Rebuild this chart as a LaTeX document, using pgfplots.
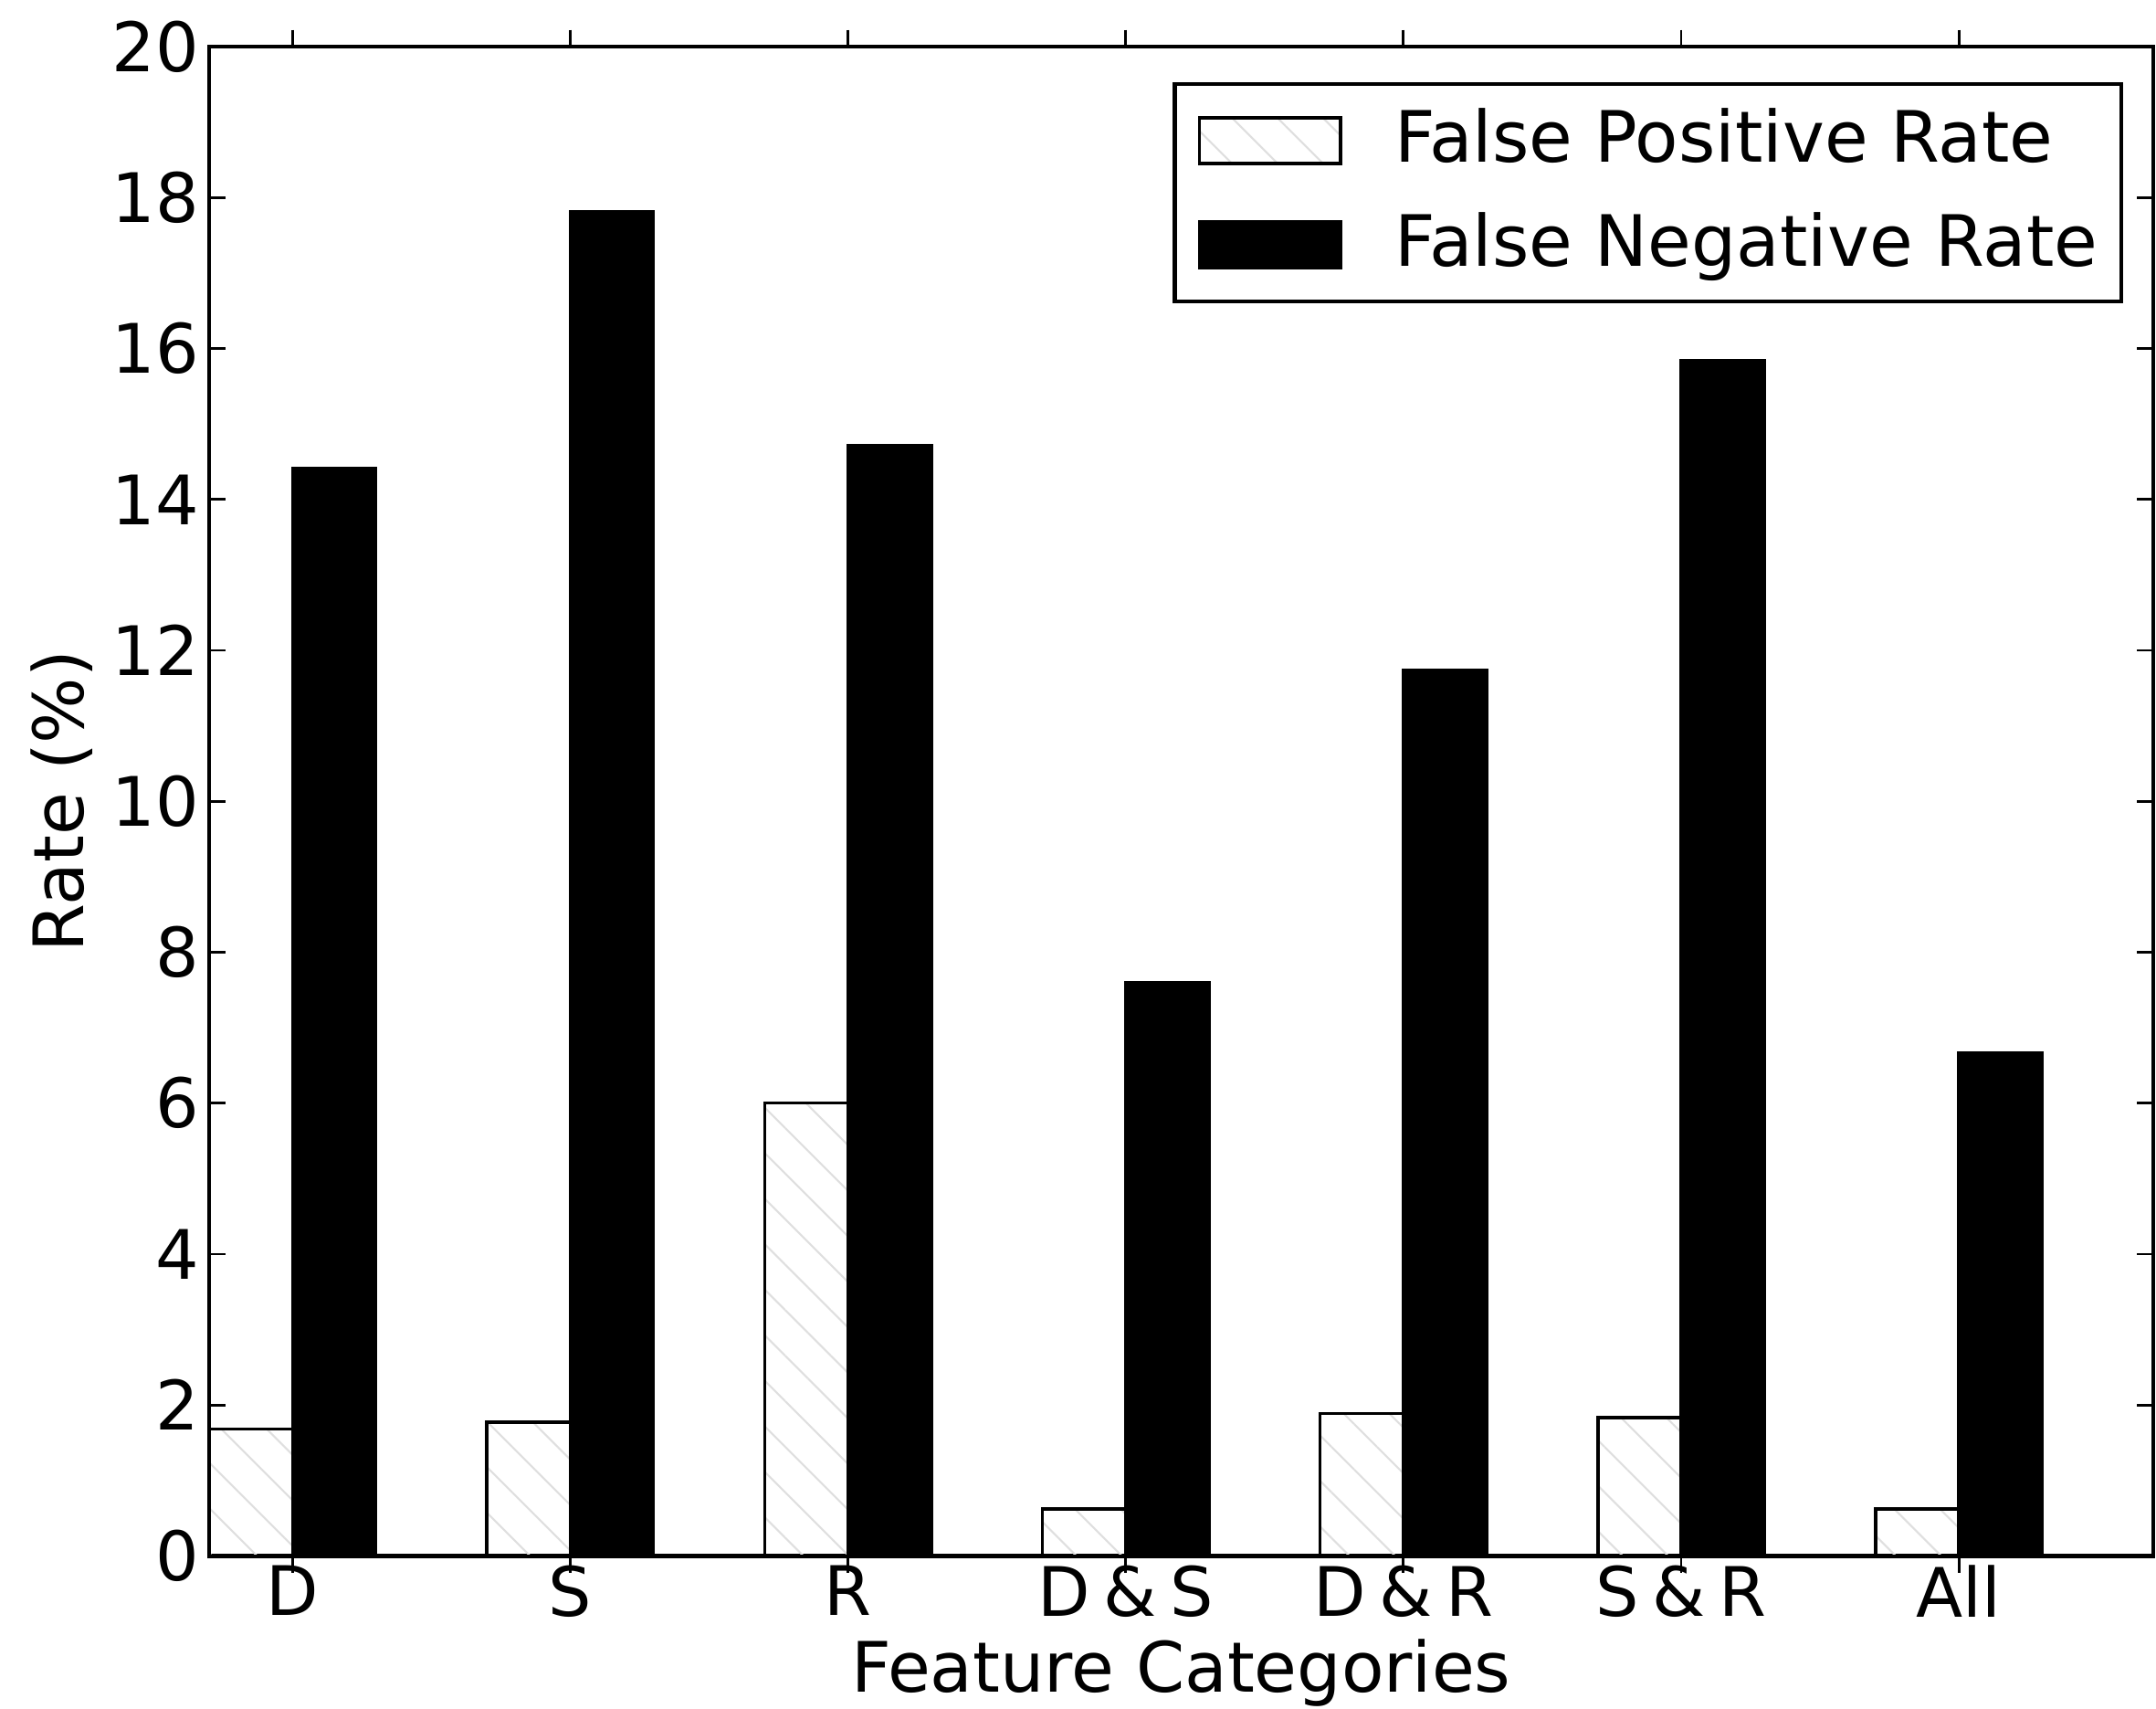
\documentclass[border=0pt]{standalone}
\usepackage{pgfplots}
\pgfplotsset{compat=1.18}
\usepackage{fontspec}
\setmainfont{DejaVu Sans}
\usetikzlibrary{patterns.meta}
\pgfplotstableread{
x fp
0.15 1.68
1.15 1.77
2.15 6.00
3.15 0.62
4.15 1.89
5.15 1.83
6.15 0.62
}\fptable
\pgfplotstableread{
x fn
0.45 14.41
1.45 17.81
2.45 14.71
3.45 7.60
4.45 11.74
5.45 15.84
6.45 6.66
}\fntable
\pgfplotsset{
  mylegend/.style={legend image code/.code={\draw[##1, line width=0.5pt] (0pt,-3.55pt) rectangle (21.9pt,3.55pt);}},
}
\newcommand{\amp}{\hspace{0.2em}\&\hspace{0.2em}}
\begin{document}
\fontsize{10.8pt}{13pt}\selectfont
\begin{tikzpicture}
\begin{axis}[
  name=a,
  scale only axis,
  width=302pt, height=234.4pt,
  xmin=0, xmax=7, ymin=0, ymax=20,
  ytick={0,2,...,20},
  xtick={0.3,1.3,2.3,3.3,4.3,5.3,6.3},
  xticklabels={D,S,R,D\amp S,D\amp R,S\amp R,All},
  /pgf/number format/assume math mode=true,
  tick align=inside,
  major tick length=2.6pt,
  minor tick num=0,
  axis line style={line width=0.6pt},
  tick style={line width=0.4pt, black},
  every tick label/.append style={font=\fontsize{10.6pt}{13pt}\selectfont},
  yticklabel style={inner sep=0pt, xshift=-1.4pt},
  xticklabel style={inner sep=0pt, yshift=1.3pt},
  xlabel={Feature Categories},
  ylabel={Rate (\%)},
  xlabel style={at={(axis description cs:0.5,0)}, anchor=base, yshift=-21.1pt, inner sep=0pt},
  ylabel style={at={(axis description cs:-0.0756,0.5)}, anchor=center, inner sep=0pt},
  legend style={at={(1,1)}, anchor=north east, xshift=-4.7pt, yshift=-5.5pt,
    draw=black, line width=0.6pt, inner xsep=3.6pt, inner ysep=3.8pt,
    row sep=6.2pt, column sep=8.2pt,
    font=\fontsize{11pt}{13pt}\selectfont,
    nodes={inner sep=0pt, anchor=west}},
  legend cell align=left,
  ybar, bar width=0.3, bar shift=0pt,
]
\addplot[draw=black, line width=0.5pt, fill=white,
  pattern={Lines[angle=-45, distance=5pt, line width=0.3pt]}, pattern color=gray!25, mylegend]
  table[x=x, y=fp] {\fptable};
\addlegendentry{False Positive Rate}
\addplot[draw=black, line width=0.5pt, fill=black, mylegend]
  table[x=x, y=fn] {\fntable};
\addlegendentry{False Negative Rate}
\coordinate (bbsw) at (rel axis cs:-0.1076,-0.1011);
\coordinate (bbne) at (rel axis cs:1.0014,1.0309);
\end{axis}
\pgfresetboundingbox
\path[use as bounding box] (bbsw) rectangle (bbne);
\end{tikzpicture}
\end{document}
